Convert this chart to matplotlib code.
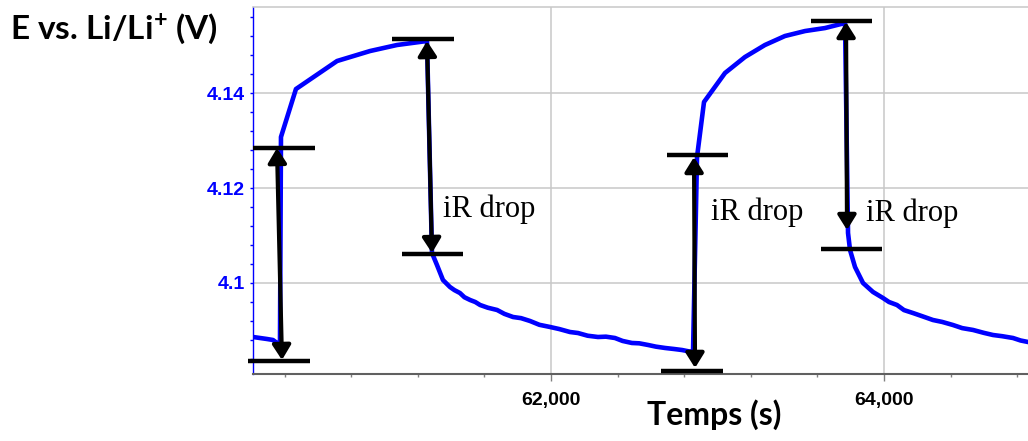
import matplotlib
matplotlib.use("Agg")
import matplotlib.pyplot as plt
from matplotlib.ticker import MultipleLocator, FixedLocator, FixedFormatter

# ---------------- data ----------------
time_s = [60210, 60294, 60330, 60354, 60366, 60372,
          60378, 60468, 60715, 60913, 61075, 61255,
          61285, 61315, 61351, 61393, 61420, 61453, 61480, 61514, 61545, 61574,
          61620, 61676, 61720, 61772, 61820, 61874, 61930, 61994, 62050, 62114,
          62162, 62220, 62282, 62330, 62384, 62430, 62486, 62530, 62583, 62630,
          62685, 62740, 62787, 62847,
          62853, 62877, 62919, 63045, 63165, 63285, 63405, 63526, 63646, 63766,
          63784, 63796, 63826, 63874, 63934, 63994, 64030, 64078, 64120, 64174,
          64230, 64294, 64350, 64414, 64470, 64535, 64600, 64655, 64710, 64775,
          64820, 64865]
potential_V = [4.08863, 4.08821, 4.08800, 4.08737, 4.08695, 4.08700,
               4.13074, 4.14084, 4.14674, 4.14884, 4.15011, 4.15095,
               4.10632, 4.10379, 4.10063, 4.09916, 4.09850, 4.09789, 4.09700, 4.09642, 4.09600, 4.09537,
               4.09480, 4.09432, 4.09350, 4.09284, 4.09260, 4.09200, 4.09120, 4.09074, 4.09030, 4.08968,
               4.08947, 4.08890, 4.08863, 4.08870, 4.08842, 4.08780, 4.08737, 4.08730, 4.08695, 4.08660,
               4.08632, 4.08610, 4.08589, 4.08547,
               4.08547, 4.12653, 4.13811, 4.14421, 4.14758, 4.15011, 4.15200, 4.15305, 4.15368, 4.15474,
               4.11053, 4.10695, 4.10337, 4.10000, 4.09811, 4.09684, 4.09600, 4.09537, 4.09430, 4.09368,
               4.09300, 4.09221, 4.09180, 4.09116, 4.09050, 4.09011, 4.08950, 4.08905, 4.08880, 4.08842,
               4.08790, 4.08758]

x_ticks = [62000, 64000]
x_tick_labels = ["62,000", "64,000"]
y_ticks = [4.10, 4.12, 4.14]
y_tick_labels = ["4.1", "4.12", "4.14"]

# horizontal reference bars (level, start, end)
bar_level = [4.12842, 4.08358, 4.15137, 4.10611, 4.12695, 4.08147, 4.15516, 4.10716]
bar_start = [60210, 60180, 61045, 61105, 62697, 62661, 63562, 63622]
bar_end = [60583, 60553, 61417, 61471, 63063, 63033, 63928, 63988]

# double arrows (x_top, y_top, x_bottom, y_bottom)
arrow_x_top = [60354, 61255, 62859, 63772]
arrow_y_top = [4.12842, 4.15095, 4.12653, 4.15495]
arrow_x_bot = [60384, 61285, 62865, 63778]
arrow_y_bot = [4.08379, 4.10632, 4.08211, 4.11116]

label_text = ["iR drop", "iR drop", "iR drop"]
label_x = [61351, 62961, 63892]
label_y = [4.11389, 4.11326, 4.11305]

# ---------------- figure ----------------
plt.rcParams["mathtext.fontset"] = "custom"
plt.rcParams["mathtext.bf"] = "Lato:bold"
plt.rcParams["mathtext.rm"] = "Lato:bold"
plt.rcParams["mathtext.default"] = "bf"

fig = plt.figure(figsize=(10.28, 4.41), dpi=100)
ax = fig.add_axes([253 / 1028, 67 / 441, 775 / 1028, 367 / 441])

ax.plot(time_s, potential_V, color="#0000FF", lw=3.3, solid_joinstyle="round", zorder=2)

for lv, x0, x1 in zip(bar_level, bar_start, bar_end):
    ax.plot([x0, x1], [lv, lv], color="black", lw=3.2, solid_capstyle="butt",
            clip_on=False, zorder=4)

for xt, yt, xb, yb in zip(arrow_x_top, arrow_y_top, arrow_x_bot, arrow_y_bot):
    ax.annotate("", xy=(xt, yt), xytext=(xb, yb),
                arrowprops=dict(arrowstyle="<|-|>,head_length=0.4,head_width=0.25",
                                color="black", lw=3, mutation_scale=22,
                                shrinkA=0, shrinkB=0),
                annotation_clip=False, zorder=5)

for t, x, y in zip(label_text, label_x, label_y):
    ax.text(x, y, t, family=["Liberation Serif", "DejaVu Serif"], fontsize=22,
            ha="left", va="baseline", color="black", zorder=6)

ax.set_xlim(60210, 64865)
ax.set_ylim(4.08084, 4.15811)

ax.xaxis.set_major_locator(FixedLocator(x_ticks))
ax.xaxis.set_major_formatter(FixedFormatter(x_tick_labels))
ax.xaxis.set_minor_locator(MultipleLocator(400))
ax.yaxis.set_major_locator(FixedLocator(y_ticks))
ax.yaxis.set_major_formatter(FixedFormatter(y_tick_labels))
ax.yaxis.set_minor_locator(MultipleLocator(0.004))

narrow = ["Liberation Sans Narrow", "Liberation Sans", "DejaVu Sans"]
for lab in ax.get_xticklabels():
    lab.set_family(narrow)
    lab.set_fontweight("bold")
    lab.set_fontsize(14)
    lab.set_color("black")
for lab in ax.get_yticklabels():
    lab.set_family(narrow)
    lab.set_fontweight("bold")
    lab.set_fontsize(14)
    lab.set_color("#0000FF")

ax.tick_params(axis="x", which="major", direction="out", length=5, width=1,
               color="#808080", pad=8)
ax.tick_params(axis="x", which="minor", direction="out", length=2.5, width=1,
               color="#808080")
ax.tick_params(axis="y", which="both", direction="out", length=2.2, width=1,
               color="#0000FF", pad=3.6)

ax.grid(True, which="major", color="#c8c8c8", lw=1.1)
ax.set_axisbelow(True)

ax.spines["right"].set_visible(False)
ax.spines["top"].set_color("#c8c8c8")
ax.spines["top"].set_linewidth(1.1)
ax.spines["left"].set_color("#0000FF")
ax.spines["left"].set_linewidth(1.0)
ax.spines["bottom"].set_color("#606060")
ax.spines["bottom"].set_linewidth(1.5)

ax.set_xlabel("Temps (s)", family=["Lato", "DejaVu Sans"], fontweight="bold",
              fontsize=23, color="black")
ax.xaxis.set_label_coords((714 - 253) / 775, (374 - 425) / 367)
ax.xaxis.label.set_va("baseline")

ax.set_ylabel(r"E vs. Li/Li$^{+}$ (V)", family=["Lato", "DejaVu Sans"],
              fontweight="bold", fontsize=24, color="black", rotation=0)
ax.yaxis.set_label_coords((10 - 253) / 775, (374 - 39) / 367)
ax.yaxis.label.set_ha("left")
ax.yaxis.label.set_va("baseline")

fig.savefig("out.png", dpi=100)
